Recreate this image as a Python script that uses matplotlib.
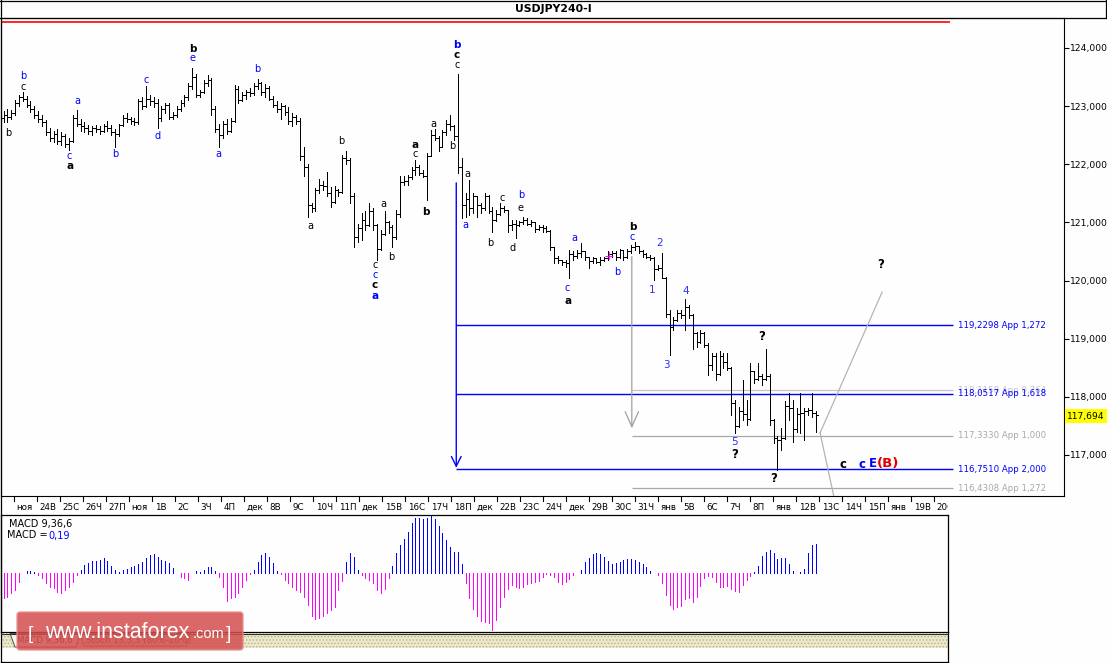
import matplotlib
matplotlib.use("Agg")
import matplotlib.pyplot as plt
from matplotlib.collections import LineCollection
from matplotlib.patches import Rectangle, FancyBboxPatch, Polygon

plt.rcParams['font.family'] = ['DejaVu Sans']
plt.rcParams['hatch.linewidth'] = 0.6

# ---------------- data ----------------
title = "USDJPY240-I"
day_labels = ["ноя", "24В", "25С", "26Ч", "27П", "ноя", "1В", "2С", "3Ч", "4П",
              "дек", "8В", "9С", "10Ч", "11П", "дек", "15В", "16С", "17Ч", "18П",
              "дек", "22В", "23С", "24Ч", "дек", "29В", "30С", "31Ч", "янв", "5В",
              "6С", "7Ч", "8П", "янв", "12В", "13С", "14Ч", "15П", "янв", "19В", "20С"]

opens = [122.80,122.85,122.82,122.88,123.05,123.15,123.12,123.02,122.95,122.85,
         122.78,122.72,122.55,122.45,122.52,122.40,122.48,122.35,122.40,122.80,
         122.70,122.65,122.62,122.58,122.62,122.60,122.58,122.65,122.62,122.55,
         122.52,122.68,122.80,122.78,122.75,122.72,123.08,123.00,123.12,123.08,
         123.05,122.80,122.95,123.02,122.82,122.85,122.95,123.05,123.15,123.35,
         123.50,123.20,123.25,123.40,123.45,122.95,122.60,122.50,122.70,122.58,
         122.75,123.30,123.10,123.20,123.25,123.22,123.35,123.40,123.25,123.32,
         123.12,123.02,122.95,123.00,122.90,122.75,122.82,122.75,122.15,121.95,
         121.30,121.25,121.55,121.65,121.62,121.50,121.35,121.55,121.52,122.10,
         122.08,121.45,120.75,120.90,121.05,120.95,121.20,120.95,120.55,120.80,
         121.00,120.92,120.75,121.15,121.70,121.72,121.78,121.90,121.95,121.85,
         121.80,122.15,122.50,122.45,122.30,122.55,122.70,122.65,122.48,121.95,
         121.30,121.40,121.25,121.45,121.30,121.25,121.45,121.20,121.05,121.15,
         121.25,121.22,120.95,120.98,120.95,121.00,121.05,120.98,121.00,120.88,
         120.92,120.90,120.86,120.58,120.38,120.35,120.32,120.30,120.45,120.42,
         120.48,120.50,120.40,120.33,120.38,120.32,120.36,120.38,120.45,120.47,
         120.40,120.52,120.40,120.50,120.58,120.60,120.50,120.45,120.40,120.38,
         120.20,120.22,120.05,119.42,119.20,119.32,119.45,119.40,119.55,119.40,
         119.10,118.95,119.10,118.90,118.55,118.70,118.40,118.70,118.60,118.50,
         117.90,117.50,117.75,117.70,117.62,118.45,118.30,118.35,118.30,118.35,
         117.60,117.30,117.25,117.30,117.85,117.80,117.45,117.70,117.72,117.75,
         117.78,117.72]
highs = [122.92,122.95,122.93,123.10,123.20,123.25,123.18,123.08,123.00,122.92,
         122.85,122.76,122.62,122.58,122.60,122.55,122.52,122.45,122.85,122.93,
         122.78,122.72,122.68,122.66,122.68,122.65,122.70,122.75,122.68,122.60,
         122.70,122.85,122.88,122.82,122.80,123.12,123.15,123.34,123.20,123.15,
         123.12,123.00,123.05,123.05,122.90,123.00,123.10,123.20,123.40,123.65,
         123.55,123.28,123.45,123.54,123.48,123.00,122.70,122.75,122.78,122.80,
         123.36,123.35,123.25,123.28,123.32,123.40,123.46,123.42,123.38,123.35,
         123.18,123.08,123.05,123.02,122.98,122.88,122.85,122.80,122.30,122.00,
         121.33,121.60,121.75,121.72,121.87,121.61,121.62,121.58,122.16,122.22,
         122.10,121.50,120.98,121.16,121.19,121.33,121.24,120.98,120.87,121.19,
         121.02,120.96,121.21,121.79,121.80,121.82,121.96,122.07,121.98,121.90,
         122.19,122.59,122.60,122.48,122.59,122.76,122.85,122.68,123.56,122.10,
         121.50,121.73,121.50,121.45,121.33,121.50,121.47,121.27,121.21,121.33,
         121.28,121.22,121.04,121.04,121.02,121.10,121.08,121.04,121.01,120.96,
         120.96,120.93,120.87,120.58,120.42,120.36,120.35,120.53,120.50,120.53,
         120.64,120.50,120.41,120.41,120.38,120.41,120.41,120.50,120.50,120.50,
         120.55,120.53,120.55,120.61,120.67,120.60,120.53,120.47,120.44,120.41,
         120.27,120.48,120.06,119.49,119.38,119.49,119.49,119.69,119.58,119.42,
         119.12,119.15,119.12,118.92,118.75,118.75,118.78,118.75,118.75,118.52,
         117.95,117.83,118.29,117.95,118.58,118.45,118.58,118.40,118.83,118.40,
         117.62,117.32,117.46,117.92,118.06,117.95,117.80,118.06,117.80,117.80,
         118.07,117.75]
lows = [122.72,122.73,122.78,122.85,123.00,123.08,122.98,122.90,122.80,122.72,
        122.65,122.50,122.40,122.38,122.35,122.33,122.30,122.25,122.38,122.65,
        122.58,122.55,122.52,122.50,122.55,122.52,122.55,122.58,122.50,122.30,
        122.48,122.65,122.72,122.70,122.68,122.70,122.95,122.98,123.02,122.98,
        122.62,122.75,122.88,122.78,122.78,122.82,122.92,123.00,123.10,123.30,
        123.15,123.15,123.22,123.35,122.85,122.55,122.30,122.45,122.52,122.55,
        122.72,123.05,123.08,123.12,123.18,123.20,123.30,123.20,123.15,123.10,
        122.98,122.90,122.78,122.85,122.70,122.65,122.70,122.08,121.80,121.10,
        121.18,121.20,121.50,121.55,121.45,121.27,121.33,121.45,121.50,122.00,
        121.33,120.58,120.67,120.70,120.87,120.93,120.87,120.35,120.52,120.78,
        120.81,120.58,120.72,121.10,121.64,121.65,121.75,121.82,121.82,121.78,
        121.39,122.15,122.42,122.22,122.30,122.50,122.59,122.42,121.85,121.07,
        121.10,121.13,121.16,121.10,121.16,121.22,121.16,120.84,121.02,121.12,
        121.18,120.84,120.87,120.73,120.93,120.98,120.95,120.93,120.84,120.87,
        120.84,120.84,120.53,120.30,120.30,120.27,120.24,120.04,120.35,120.38,
        120.41,120.35,120.21,120.30,120.30,120.27,120.33,120.35,120.41,120.35,
        120.38,120.35,120.38,120.48,120.52,120.47,120.41,120.38,120.35,120.01,
        120.18,120.04,119.38,118.72,119.15,119.30,119.35,119.15,119.35,118.83,
        118.86,118.93,118.86,118.38,118.46,118.29,118.38,118.49,118.46,117.69,
        117.37,117.48,117.60,117.52,117.60,118.23,118.29,118.20,118.29,117.52,
        117.20,116.74,117.09,117.28,117.60,117.23,117.40,117.37,117.26,117.69,
        117.66,117.40]
closes = [122.85,122.82,122.88,123.05,123.15,123.12,123.02,122.95,122.85,122.78,
          122.72,122.55,122.45,122.52,122.40,122.48,122.35,122.40,122.80,122.70,
          122.65,122.62,122.58,122.62,122.60,122.58,122.65,122.62,122.55,122.52,
          122.68,122.80,122.78,122.75,122.72,123.08,123.00,123.12,123.08,123.05,
          122.80,122.95,123.02,122.82,122.85,122.95,123.05,123.15,123.35,123.50,
          123.20,123.25,123.40,123.45,122.95,122.60,122.50,122.70,122.58,122.75,
          123.30,123.10,123.20,123.25,123.22,123.35,123.40,123.25,123.32,123.12,
          123.02,122.95,123.00,122.90,122.75,122.82,122.75,122.15,121.95,121.30,
          121.25,121.55,121.65,121.62,121.50,121.35,121.55,121.52,122.10,122.08,
          121.45,120.75,120.90,121.05,120.95,121.20,120.95,120.55,120.80,121.00,
          120.92,120.75,121.15,121.70,121.72,121.78,121.90,121.95,121.85,121.80,
          122.15,122.50,122.45,122.30,122.55,122.70,122.65,122.48,121.95,121.30,
          121.40,121.25,121.45,121.30,121.25,121.45,121.20,121.05,121.15,121.25,
          121.22,120.95,120.98,120.95,121.00,121.05,120.98,121.00,120.88,120.92,
          120.90,120.86,120.58,120.38,120.35,120.32,120.30,120.45,120.42,120.48,
          120.50,120.40,120.33,120.38,120.32,120.36,120.38,120.45,120.47,120.40,
          120.52,120.40,120.50,120.58,120.60,120.50,120.45,120.40,120.38,120.20,
          120.22,120.05,119.42,119.20,119.32,119.45,119.40,119.55,119.40,119.10,
          118.95,119.10,118.90,118.55,118.70,118.40,118.70,118.60,118.50,117.90,
          117.50,117.75,117.70,117.62,118.45,118.30,118.35,118.30,118.35,117.60,
          117.30,117.25,117.30,117.85,117.80,117.45,117.70,117.72,117.75,117.78,
          117.72,117.69]

macd_hist = [-0.165,-0.158,-0.132,-0.112,-0.059,0.0,0.013,0.013,0.007,-0.013,
             -0.033,-0.066,-0.092,-0.099,-0.125,-0.132,-0.112,-0.092,-0.059,-0.013,
             0.020,0.053,0.066,0.079,0.079,0.086,0.099,0.079,0.046,0.020,
             0.007,0.020,0.026,0.040,0.046,0.059,0.073,0.099,0.119,0.125,
             0.106,0.086,0.079,0.066,0.033,0.0,-0.026,-0.033,-0.046,0.0,
             0.013,0.007,0.020,0.040,0.040,0.013,-0.026,-0.092,-0.185,-0.165,
             -0.158,-0.132,-0.092,-0.046,-0.007,0.020,0.073,0.119,0.132,0.106,
             0.066,0.013,-0.007,-0.046,-0.066,-0.092,-0.112,-0.125,-0.158,-0.211,
             -0.284,-0.304,-0.297,-0.284,-0.264,-0.244,-0.224,-0.112,-0.053,0.073,
             0.132,0.106,0.020,-0.013,-0.033,-0.046,-0.066,-0.112,-0.132,-0.106,
             -0.033,0.046,0.132,0.185,
             0.224,0.271,0.330,0.363,0.363,0.356,0.363,0.376,0.356,0.310,
             0.264,0.218,0.172,0.139,0.139,0.059,
             -0.066,-0.165,-0.238,-0.284,-0.317,-0.323,-0.330,-0.376,-0.310,-0.224,
             -0.158,-0.106,-0.079,-0.092,-0.099,-0.092,-0.073,-0.066,-0.059,-0.053,
             -0.026,-0.007,-0.013,-0.026,-0.059,-0.073,-0.059,-0.040,-0.013,0.003,
             0.020,0.073,0.099,0.125,0.132,0.125,0.106,0.079,0.059,0.066,
             0.073,0.086,0.092,0.092,0.086,0.073,0.059,0.040,0.013,0.0,
             -0.013,-0.066,-0.145,-0.211,-0.238,-0.224,-0.218,-0.172,-0.165,-0.191,
             -0.158,-0.086,-0.033,-0.020,-0.026,-0.059,-0.092,-0.092,-0.086,-0.106,
             -0.119,-0.125,-0.079,-0.046,-0.020,
             0.007,0.046,0.112,0.139,0.152,0.132,0.092,0.099,0.099,0.059,
             0.013,0.0,0.007,0.026,0.132,0.185,0.19]
macd_title = "MACD 9,36,6"
macd_value_text = "0,19"
last_price = 117.694

y_ticks = [117, 118, 119, 120, 121, 122, 123, 124]
red_level = 124.45

fib_blue_levels = [119.2298, 118.0517, 116.7510]
fib_blue_labels = ["119,2298 App 1,272", "118,0517 App 1,618", "116,7510 App 2,000"]
fib_gray_levels = [118.1158, 117.3330, 116.4308]
fib_gray_labels = ["118,1158 App 0,764", "117,3330 App 1,000", "116,4308 App 1,272"]
fib_gray_colors = ["#c4c4c4", "#a8a8a8", "#a8a8a8"]
blue_fib_start_bar = 117.6
gray_fib_start_bar = 163.2
fib_end_bar = 246.6
fib_text_bar = 247.9
blue_arrow = (117.6, 121.68, 116.78)   # bar, from price, to price
gray_arrow = (163.2, 120.41, 117.46)
diag_lines = [((212.1, 117.38), (228.2, 119.80)),
              ((212.1, 117.38), (216.6, 116.00))]

# wave labels: bar, price, text, colour, bold, size
BL, BK, NB = "#0000ff", "#000000", "#3030ff"
wave_labels = [
    (1.2, 122.54, "b", BK, False, 7), (5.1, 123.52, "b", BL, False, 7),
    (5.1, 123.33, "c", BK, False, 7), (17.0, 122.14, "c", BL, False, 7),
    (17.3, 121.97, "a", BK, True, 7.5), (19.1, 123.09, "a", BL, False, 7),
    (29.0, 122.18, "b", BL, False, 7), (37.0, 123.45, "c", BL, False, 7),
    (39.9, 122.49, "d", BL, False, 7), (49.0, 123.83, "e", BL, False, 7),
    (49.2, 123.99, "b", BK, True, 7.5), (55.7, 122.18, "a", BL, False, 7),
    (65.8, 123.64, "b", BL, False, 7), (79.6, 120.94, "a", BK, False, 7),
    (87.7, 122.40, "b", BK, False, 7), (96.5, 120.27, "c", BK, False, 7),
    (96.5, 120.10, "c", BL, False, 7), (96.5, 119.92, "c", BK, True, 7.5),
    (96.5, 119.73, "a", BL, True, 7.5), (98.6, 121.32, "a", BK, False, 7),
    (100.6, 120.41, "b", BK, False, 7), (106.9, 122.33, "a", BK, True, 7.5),
    (106.9, 122.18, "c", BK, False, 7), (109.7, 121.18, "b", BK, True, 7.5),
    (111.6, 122.69, "a", BK, False, 7), (117.8, 124.05, "b", BL, True, 7.5),
    (117.8, 123.88, "c", BK, True, 7.5), (117.8, 123.71, "c", BK, False, 7),
    (116.5, 122.31, "b", BK, False, 7), (120.4, 121.83, "a", BK, False, 7),
    (119.9, 120.96, "a", BL, False, 7), (126.4, 120.65, "b", BK, False, 7),
    (129.5, 121.42, "c", BK, False, 7), (132.3, 120.56, "d", BK, False, 7),
    (134.4, 121.47, "b", BL, False, 7), (134.4, 121.25, "e", BK, False, 7),
    (148.4, 120.73, "a", BL, False, 7), (146.4, 119.87, "c", BL, False, 7),
    (146.6, 119.65, "a", BK, True, 7.5), (159.3, 120.15, "b", BL, False, 7),
    (163.5, 120.92, "b", BK, True, 7.5), (163.2, 120.75, "c", BL, False, 7),
    (168.4, 119.84, "1", NB, False, 7.5), (170.3, 120.65, "2", NB, False, 7.5),
    (172.3, 118.55, "3", NB, False, 7.5), (177.3, 119.82, "4", NB, False, 7.5),
    (190.0, 117.22, "5", NB, False, 7.5), (190.0, 117.00, "?", BK, True, 8.5),
    (197.0, 119.03, "?", BK, True, 8.5), (200.1, 116.60, "?", BK, True, 8.5),
    (227.9, 120.28, "?", BK, True, 8.5), (157.3, 120.41, "+", "#ff00ff", False, 9),
    (218.1, 116.84, "c", BK, True, 8.5), (223.0, 116.84, "c", BL, True, 8.5),
    (225.8, 116.86, "E", BL, True, 8.5), (229.8, 116.86, "(B)", "#e00000", True, 9.5),
]

# ---------------- layout helpers ----------------
W, H = 1107, 663
BAR0_PX, BAR_PX = 3.5, 3.85
PRICE_REF, Y_REF, PX_PER_UNIT = 124.0, 48.0, 58.14
MACD_K = 0.0066


def bar_at(px):
    return (px - BAR0_PX) / BAR_PX


def price_at(py):
    return PRICE_REF - (py - Y_REF) / PX_PER_UNIT


def rect(x0, y0, x1, y1):
    return [x0 / W, 1 - y1 / H, (x1 - x0) / W, (y1 - y0) / H]


fig = plt.figure(figsize=(W / 100, H / 100), dpi=100)
fig.patch.set_facecolor('#fdfefd')

# ---------------- price panel ----------------
ax = fig.add_axes(rect(1, 18, 1064, 496))
ax.set_facecolor('none')
ax.set_xlim(bar_at(1), bar_at(1064))
ax.set_ylim(price_at(496), price_at(18))
ax.set_xticks([])
ax.yaxis.tick_right()
ax.set_yticks(y_ticks)
ax.set_yticklabels([f"{v:.3f}".replace('.', ',') for v in y_ticks])
ax.tick_params(axis='y', direction='out', length=3.5, width=0.8, pad=0.8,
               labelsize=6.6, colors='black')
for s in ax.spines.values():
    s.set_linewidth(0.8)

segs = []
for i in range(len(closes)):
    segs.append([(i, lows[i]), (i, highs[i])])
    segs.append([(i - 0.45, opens[i]), (i, opens[i])])
    segs.append([(i, closes[i]), (i + 0.45, closes[i])])
ax.add_collection(LineCollection(segs, colors='black', linewidths=0.62,
                                 antialiased=False, zorder=3))

ax.hlines(red_level, bar_at(1), bar_at(950), color='#ff0000', lw=1.2)

for lvl, col in zip(fib_gray_levels, fib_gray_colors):
    ax.hlines(lvl, gray_fib_start_bar, fib_end_bar, color=col, lw=0.9, zorder=2)
for lvl in fib_blue_levels:
    ax.hlines(lvl, blue_fib_start_bar, fib_end_bar, color='#0000ff', lw=1.0, zorder=2)
for lvl, lab, col in zip(fib_gray_levels, fib_gray_labels, fib_gray_colors):
    ax.text(fib_text_bar, lvl, lab, color=col, fontsize=6.2, ha='left', va='center')
for lvl, lab in zip(fib_blue_levels, fib_blue_labels):
    ax.text(fib_text_bar, lvl, lab, color='#0000ff', fontsize=6.2, ha='left', va='center')

ax.annotate('', xy=(blue_arrow[0], blue_arrow[2]), xytext=(blue_arrow[0], blue_arrow[1]),
            arrowprops=dict(arrowstyle='->,head_length=0.7,head_width=0.35', color='#0000ff',
                            lw=1.0, shrinkA=0, shrinkB=0, mutation_scale=10))
ax.annotate('', xy=(gray_arrow[0], gray_arrow[2]), xytext=(gray_arrow[0], gray_arrow[1]),
            arrowprops=dict(arrowstyle='->,head_length=0.9,head_width=0.4', color='#a0a0a0',
                            lw=0.9, shrinkA=0, shrinkB=0, mutation_scale=12))
for (p0, p1) in diag_lines:
    ax.plot([p0[0], p1[0]], [p0[1], p1[1]], color='#b4b4b4', lw=0.9, zorder=2)

for bx, py, txt, col, bold, fs in wave_labels:
    ax.text(bx, py, txt, color=col, fontsize=fs, ha='center', va='center',
            fontweight='bold' if bold else 'normal', zorder=4)

# ---------------- time label row ----------------
axl = fig.add_axes(rect(1, 496, 948, 515))
axl.set_xlim(bar_at(1), bar_at(948))
axl.set_ylim(0, 1)
axl.axis('off')
for d, lab in enumerate(day_labels):
    tx = bar_at(14 + 23.0 * d)
    axl.plot([tx, tx], [1.0, 0.72], color='black', lw=0.8)
    t = axl.text(tx + 0.7, 0.40, lab, ha='left', va='center', fontsize=6.3, clip_on=True)
    t.set_clip_box(axl.bbox)

# ---------------- MACD panel ----------------
axm = fig.add_axes(rect(1, 515, 948, 632))
axm.set_facecolor('none')
axm.set_xlim(bar_at(1), bar_at(948))
axm.set_ylim(-59 * MACD_K, 58 * MACD_K)
axm.set_xticks([])
axm.set_yticks([])
for s in axm.spines.values():
    s.set_linewidth(0.9)
xs = list(range(len(macd_hist)))
cols = ['#0000ff' if v > 0 else '#ff00ff' for v in macd_hist]
axm.vlines(xs, 0, macd_hist, colors=cols, lw=0.72, antialiased=False)

# ---------------- overlay (frames, title, watermark) ----------------
axo = fig.add_axes([0, 0, 1, 1])
axo.set_xlim(0, W)
axo.set_ylim(H, 0)
axo.axis('off')
axo.set_zorder(10)

k = dict(color='black', lw=0.9)
axo.plot([0, W], [0.6, 0.6], **k)
axo.plot([0, W], [18, 18], **k)
axo.plot([1, 1], [0, 662], **k)
axo.plot([1106.4, 1106.4], [0, 18], **k)
axo.plot([1, 948], [662, 662], **k)
axo.plot([948, 948], [632, 662], **k)
axo.text(553, 9.5, title, ha='center', va='center', fontsize=7.8, fontweight='bold')

axo.text(9, 523.5, macd_title, ha='left', va='center', fontsize=7)
axo.text(7, 535.5, "MACD =", ha='left', va='center', fontsize=7)
axo.text(48, 535.5, macd_value_text, ha='left', va='center', fontsize=7, color='#0000ff')

# tab strip
axo.add_patch(Rectangle((1.5, 633), 946, 15, facecolor='#ece8cc', edgecolor='#b9b084',
                        hatch='.....', lw=0))
axo.plot([1, 948], [633.5, 633.5], color='#303030', lw=0.8)
axo.add_patch(Polygon([(10, 633.5), (15, 647), (76, 647), (80, 633.5)], closed=True,
                      facecolor='#f7f6ee', edgecolor='#505050', lw=0.7))
axo.add_patch(Polygon([(80, 633.5), (84, 646), (186, 646), (190, 633.5)], closed=True,
                      facecolor='none', edgecolor='#707070', lw=0.7))
axo.text(17, 640.5, "MACD 9,36,6", fontsize=6.2, ha='left', va='center', color='#202020')
axo.text(86, 640.5, "Stoch 13,3,3 (80%-20%)", fontsize=6.2, ha='left', va='center',
         color='#404040')

# watermark
axo.add_patch(FancyBboxPatch((17, 612), 226, 38, boxstyle='round,pad=0,rounding_size=3',
                             facecolor='#d44e4e', edgecolor='#e58f8f', lw=1.0, alpha=0.85,
                             zorder=5))
wm = dict(color='white', va='baseline', ha='left', family=['Liberation Sans', 'DejaVu Sans'],
          zorder=6)
axo.text(28, 639, "[", fontsize=14, **wm)
axo.text(45, 638, "www.instaforex", fontsize=15.5, **wm)
axo.text(193, 638, ".com", fontsize=10.5, **wm)
axo.text(226, 639, "]", fontsize=14, **wm)

# current price box
yp = Y_REF + (PRICE_REF - last_price) * PX_PER_UNIT
axo.add_patch(Rectangle((1065, yp - 5.5), 42, 14, facecolor='#ffff00', edgecolor='none'))
axo.text(1067, yp + 1.5, f"{last_price:.3f}".replace('.', ','), ha='left', va='center',
         fontsize=6.6)

fig.savefig("out.png", dpi=100, facecolor=fig.get_facecolor())
